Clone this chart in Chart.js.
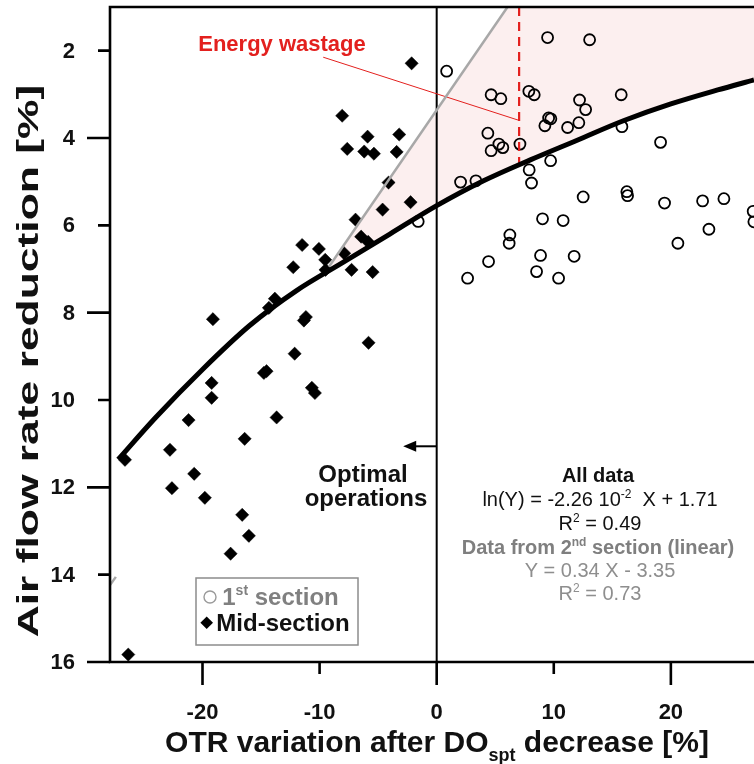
<!DOCTYPE html>
<html><head><meta charset="utf-8">
<script src="https://cdn.jsdelivr.net/npm/chart.js@4.4.1/dist/chart.umd.min.js"></script>
<style>html,body{margin:0;padding:0;background:#fff;overflow:hidden;}#wrap{width:754px;height:764px;position:relative;}</style>
</head><body><div id="wrap"><canvas id="c" width="754" height="764"></canvas></div>
<script>
const FONT = "'Liberation Sans', Arial, Helvetica, sans-serif";

// Axis ticks
const xTicks = [-20, -10, 0, 10, 20];
const xMajorTicks = [-20, 0, 20];
const yTicks = [2, 4, 6, 8, 10, 12, 14, 16];
const yMajorTicks = [4, 8, 12, 16];

// 1st section (open circles)
const firstX = [9.47, 13.06, 0.85, 4.65, 5.48, 7.87, 8.33, 15.76, 12.20, 12.72, 9.56, 9.75, 9.24, 11.18, 12.14, 15.82,
  4.37, 5.31, 5.65, 4.65, 7.11, 19.12, 9.73, 7.90, 8.10, 2.04, 3.35, 12.51, 16.24, 16.30, 19.46, 22.71, 24.53,
  27.03, 27.09, 9.04, 10.80, 23.25, 6.25, 6.19, 20.60, 4.43, 2.64, 8.87, 8.53, 11.74, 10.41, -1.58];
const firstY = [1.70, 1.75, 2.47, 3.01, 3.10, 2.93, 3.01, 3.01, 3.13, 3.35, 3.54, 3.56, 3.72, 3.76, 3.65, 3.74,
  3.89, 4.14, 4.22, 4.29, 4.14, 4.10, 4.52, 4.73, 5.03, 5.01, 4.98, 5.35, 5.23, 5.32, 5.49, 5.44, 5.39,
  5.68, 5.92, 5.85, 5.89, 6.09, 6.22, 6.41, 6.41, 6.83, 7.21, 6.69, 7.06, 6.71, 7.21, 5.91];

// Mid-section (filled diamonds)
const midX = [-2.14, -8.07, -3.20, -5.90, -7.64, -6.19, -5.36, -3.42, -4.11, -2.23, -4.62, -6.93, -6.45, -5.85,
  -11.49, -10.06, -9.52, -7.90, -12.25, -9.49, -7.27, -5.47, -13.82, -14.33, -19.11, -11.17, -11.34, -5.82,
  -12.13, -14.76, -14.53, -19.22, -19.22, -10.66, -10.40, -21.19, -13.67, -16.40, -22.78, -26.62, -20.71,
  -22.61, -19.80, -16.61, -16.04, -17.60, -26.34];
const midY = [2.29, 3.49, 3.92, 3.97, 4.25, 4.31, 4.36, 4.32, 5.02, 5.47, 5.64, 5.87, 6.26, 6.38,
  6.45, 6.54, 6.79, 6.64, 6.96, 7.02, 7.02, 7.07, 7.68, 7.89, 8.15, 8.10, 8.18, 8.69,
  8.94, 9.38, 9.34, 9.61, 9.95, 9.72, 9.84, 10.46, 10.40, 10.89, 11.14, 11.37, 11.69,
  12.02, 12.24, 12.63, 13.11, 13.52, 15.83];

// "All data" fit curve
const fitX = [-27.2, -24, -20, -16, -12, -8, -4, 0, 4, 8, 12, 16, 20, 24, 27.1];
const fitY = [11.36, 10.4, 9.3, 8.3, 7.5, 6.85, 6.2, 5.55, 4.98, 4.5, 4.05, 3.6, 3.22, 2.9, 2.67];

// 2nd-section linear fit (grey), visible parts
const linX = [-9.2, 6.05];
const linY = [6.95, 1.0];
const linTailX = [-27.9, -27.4];
const linTailY = [14.24, 14.05];

// Upper bound of the "energy wastage" area
const wasteX = [-9.2, 6.05, 27.1];
const wasteY = [6.95, 1.0, 1.0];

// Red marks
const markX = [7.04, 7.04];
const markY = [1.0, 4.58];
const pointerX = [-9.69, 6.96];
const pointerY = [2.15, 3.59];

// Vertical line at x = 0 and arrow
const zeroX = [0, 0];
const zeroY = [1, 16];
const arrowX = [0, -2.86];
const arrowY = [11.06, 11.06];

const pts = (xs, ys) => xs.map((x, i) => ({x: x, y: ys[i]}));

function drawRuns(ctx, runs, cx, baseY) {
  let total = 0;
  runs.forEach(r => { ctx.font = (r.bold ? 'bold ' : '') + r.size + 'px ' + FONT; r.w = ctx.measureText(r.t).width; total += r.w; });
  let x = cx - total / 2;
  ctx.textAlign = 'left'; ctx.textBaseline = 'alphabetic';
  runs.forEach(r => {
    ctx.font = (r.bold ? 'bold ' : '') + r.size + 'px ' + FONT;
    ctx.fillStyle = r.color;
    ctx.fillText(r.t, x, baseY + (r.dy || 0));
    x += r.w;
  });
}

const deco = {
  id: 'deco',
  afterDatasetsDraw(chart) {
    const ctx = chart.ctx, xs = chart.scales.x, ys = chart.scales.y, ca = chart.chartArea;
    ctx.save();
    ctx.strokeStyle = '#000'; ctx.lineWidth = 2.6; ctx.lineCap = 'butt';
    // frame
    ctx.beginPath();
    ctx.moveTo(ca.right + 2, ca.top); ctx.lineTo(ca.left, ca.top); ctx.lineTo(ca.left, ca.bottom); ctx.lineTo(ca.right + 2, ca.bottom);
    ctx.stroke();
    // ticks
    ctx.beginPath();
    yTicks.forEach(v => {
      const p = ys.getPixelForValue(v); const len = yMajorTicks.includes(v) ? 23 : 12;
      ctx.moveTo(ca.left - len, p); ctx.lineTo(ca.left, p);
    });
    xTicks.forEach(v => {
      const p = xs.getPixelForValue(v); const len = xMajorTicks.includes(v) ? 23 : 12;
      ctx.moveTo(p, ca.bottom); ctx.lineTo(p, ca.bottom + len);
    });
    ctx.stroke();
    // tick labels
    ctx.fillStyle = '#111';
    ctx.font = 'bold 22px ' + FONT;
    ctx.textAlign = 'right'; ctx.textBaseline = 'middle';
    yTicks.forEach(v => { ctx.fillText(String(v), ca.left - 35, ys.getPixelForValue(v) + 1); });
    ctx.textAlign = 'center';
    xTicks.forEach(v => { ctx.fillText(String(v), xs.getPixelForValue(v), 713); });
    // arrow
    const ax0 = xs.getPixelForValue(arrowX[0]), ax1 = xs.getPixelForValue(arrowX[1]), ay = ys.getPixelForValue(arrowY[0]);
    ctx.lineWidth = 2;
    ctx.beginPath(); ctx.moveTo(ax0, ay); ctx.lineTo(ax1 + 8, ay); ctx.stroke();
    ctx.fillStyle = '#000';
    ctx.beginPath(); ctx.moveTo(ax1, ay); ctx.lineTo(ax1 + 13, ay - 5.5); ctx.lineTo(ax1 + 13, ay + 5.5); ctx.closePath(); ctx.fill();

    // legend box
    ctx.fillStyle = '#fff'; ctx.fillRect(196, 578, 162, 67);
    ctx.strokeStyle = '#8c8c8c'; ctx.lineWidth = 1.5; ctx.strokeRect(196, 578, 162, 67);
    ctx.strokeStyle = '#9a9a9a'; ctx.lineWidth = 1.4;
    ctx.beginPath(); ctx.arc(210, 597, 6, 0, Math.PI * 2); ctx.stroke();
    ctx.fillStyle = '#000';
    ctx.beginPath(); ctx.moveTo(206.7, 616.5); ctx.lineTo(213, 622.7); ctx.lineTo(206.7, 629); ctx.lineTo(200.4, 622.7); ctx.closePath(); ctx.fill();
    ctx.restore();
  },
  afterDraw(chart) {
    const ctx = chart.ctx;
    ctx.save();
    // legend text
    drawRuns(ctx, [
      {t: '1', size: 24, bold: true, color: '#808080'},
      {t: 'st', size: 14, bold: true, color: '#808080', dy: -10},
      {t: ' section', size: 24, bold: true, color: '#808080'}], 280.5, 605);
    drawRuns(ctx, [{t: 'Mid-section', size: 24, bold: true, color: '#111'}], 283, 631);

    // Energy wastage
    drawRuns(ctx, [{t: 'Energy wastage', size: 22, bold: true, color: '#e3201e'}], 282, 51);
    // Optimal operations
    drawRuns(ctx, [{t: 'Optimal', size: 24, bold: true, color: '#111'}], 363, 482);
    drawRuns(ctx, [{t: 'operations', size: 24, bold: true, color: '#111'}], 366, 506);

    // equations block
    const blk = '#111', gb = '#7f7f7f', gr = '#8e8e8e';
    drawRuns(ctx, [{t: 'All data', size: 20, bold: true, color: blk}], 598, 482);
    drawRuns(ctx, [
      {t: 'ln(Y) = -2.26 10', size: 20, color: blk},
      {t: '-2', size: 12, color: blk, dy: -8},
      {t: '  X + 1.71', size: 20, color: blk}], 600, 506);
    drawRuns(ctx, [{t: 'R', size: 20, color: blk}, {t: '2', size: 12, color: blk, dy: -8}, {t: ' = 0.49', size: 20, color: blk}], 600, 530);
    drawRuns(ctx, [
      {t: 'Data from 2', size: 20, bold: true, color: gb},
      {t: 'nd', size: 12, bold: true, color: gb, dy: -8},
      {t: ' section (linear)', size: 20, bold: true, color: gb}], 598, 554);
    drawRuns(ctx, [{t: 'Y = 0.34 X - 3.35', size: 20, color: gr}], 600, 577);
    drawRuns(ctx, [{t: 'R', size: 20, color: gr}, {t: '2', size: 12, color: gr, dy: -8}, {t: ' = 0.73', size: 20, color: gr}], 600, 600);

    // axis titles
    drawRuns(ctx, [
      {t: 'OTR variation after DO', size: 30, bold: true, color: '#111'},
      {t: 'spt', size: 18, bold: true, color: '#111', dy: 9},
      {t: ' decrease [%]', size: 30, bold: true, color: '#111'}], 437, 752);
    ctx.save();
    ctx.translate(38, 361); ctx.rotate(-Math.PI / 2); ctx.scale(1.48, 1);
    drawRuns(ctx, [{t: 'Air flow rate reduction [%]', size: 30, bold: true, color: '#111'}], 0, 0);
    ctx.restore();
    ctx.restore();
  }
};

const lineDs = (data, extra) => Object.assign({
  data: data, showLine: true, pointRadius: 0, pointHoverRadius: 0, fill: false, tension: 0,
  backgroundColor: 'rgba(0,0,0,0)'
}, extra);

new Chart(document.getElementById('c'), {
  type: 'line',
  data: {
    datasets: [
      lineDs(pts(zeroX, zeroY), {label: 'zero', borderColor: '#000', borderWidth: 2, order: 9}),
      {label: '1st section', data: pts(firstX, firstY), showLine: false, pointStyle: 'circle', pointRadius: 5.5,
        pointBorderWidth: 1.8, borderColor: '#000', pointBorderColor: '#000', backgroundColor: 'rgba(0,0,0,0)',
        pointBackgroundColor: 'rgba(0,0,0,0)', fill: false, order: 7},
      {label: 'Mid-section', data: pts(midX, midY), showLine: false, pointStyle: 'rectRot', pointRadius: 6.6,
        pointBorderWidth: 0.5, borderColor: '#000', pointBorderColor: '#000', backgroundColor: '#000',
        pointBackgroundColor: '#000', fill: false, order: 6},
      lineDs(pts(markX, markY), {label: 'mark', borderColor: '#e3201e', borderWidth: 2.2, borderDash: [9, 6], order: 4}),
      lineDs(pts(pointerX, pointerY), {label: 'pointer', borderColor: '#e3201e', borderWidth: 1, order: 4}),
      lineDs(pts(linX, linY), {label: 'linear', borderColor: '#a8a8a8', borderWidth: 2.5, order: 3}),
      lineDs(pts(linTailX, linTailY), {label: 'linearTail', borderColor: '#a8a8a8', borderWidth: 2.5, order: 3}),
      lineDs(pts(wasteX, wasteY), {label: 'wasteBound', borderColor: 'rgba(0,0,0,0)', borderWidth: 0, order: 10}),
      lineDs(pts(fitX, fitY), {label: 'fit', borderColor: '#000', borderWidth: 5, cubicInterpolationMode: 'monotone',
        fill: {target: '-1', above: '#fcefef', below: '#fcefef'}, backgroundColor: '#fcefef', order: 1})
    ]
  },
  options: {
    responsive: false, animation: false, devicePixelRatio: 1,
    layout: {autoPadding: false, padding: {top: 7, right: 0, left: 0, bottom: 0}},
    plugins: {legend: {display: false}, tooltip: {enabled: false}, colors: {enabled: false},
      filler: {propagate: false, drawTime: 'beforeDatasetsDraw'}},
    elements: {line: {borderCapStyle: 'butt'}},
    scales: {
      x: {type: 'linear', min: -27.9, max: 27.1,
        grid: {display: false, drawTicks: false}, border: {display: false},
        afterBuildTicks: s => { s.ticks = xTicks.map(v => ({value: v})); },
        afterFit: s => { s.height = 102; },
        ticks: {display: false, padding: 0}},
      y: {type: 'linear', min: 1, max: 16, reverse: true,
        grid: {display: false, drawTicks: false}, border: {display: false},
        afterBuildTicks: s => { s.ticks = yTicks.map(v => ({value: v})); },
        afterFit: s => { s.width = 110; },
        ticks: {display: false, padding: 0}}
    }
  },
  plugins: [deco]
});
</script></body></html>
